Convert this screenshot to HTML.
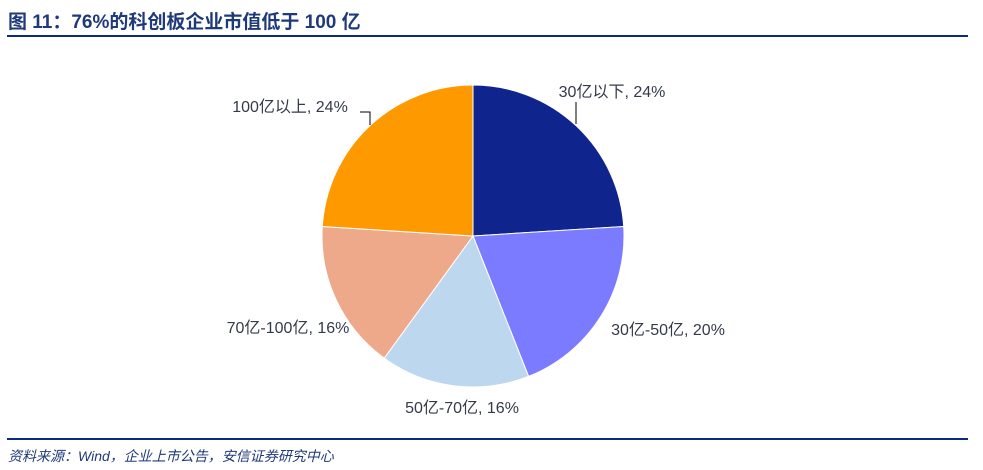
<!DOCTYPE html>
<html><head><meta charset="utf-8"><style>
body{margin:0;background:#fff;width:983px;height:470px;overflow:hidden;font-family:"Liberation Sans","Noto Sans CJK SC",sans-serif;}
#title{position:absolute;left:8px;top:7px;font-size:19px;font-weight:bold;color:#1f3a7a;white-space:nowrap;}
.rule{position:absolute;left:7px;width:961px;height:2px;background:#0d2a80;}
#src{position:absolute;left:8px;top:446px;font-size:14px;font-style:italic;color:#1f3a7a;white-space:nowrap;}
svg{position:absolute;left:0;top:0;}
</style></head><body>
<div id="title">图 11：76%的科创板企业市值低于 100 亿</div>
<div class="rule" style="top:35px"></div>
<svg id="chart" width="983" height="470"></svg>
<div class="rule" style="top:438px"></div>
<div id="src">资料来源：Wind，企业上市公告，安信证券研究中心</div>
<script>
const categories=["30亿以下","30亿-50亿","50亿-70亿","70亿-100亿","100亿以上"];
const values=[24,20,16,16,24];
const colors=["#0f248c","#7b7bff","#bdd7ee","#eda98a","#ff9900"];
const labelPos=[[612,91,"middle"],[668,329,"middle"],[462,407,"middle"],[288,327,"middle"],[290,106,"middle"]];
const NS="http://www.w3.org/2000/svg";
const svg=document.getElementById('chart');
const cx=473,cy=236,r=151;
const total=values.reduce((a,b)=>a+b,0);
function pt(a,rr){return [cx+rr*Math.sin(a),cy-rr*Math.cos(a)];}
let a0=0;
values.forEach((v,i)=>{
  const a1=a0+v/total*2*Math.PI;
  const p0=pt(a0,r),p1=pt(a1,r);
  const large=(a1-a0)>Math.PI?1:0;
  const path=document.createElementNS(NS,'path');
  path.setAttribute('d',`M${cx},${cy} L${p0[0]},${p0[1]} A${r},${r} 0 ${large} 1 ${p1[0]},${p1[1]} Z`);
  path.setAttribute('fill',colors[i]);
  path.setAttribute('stroke','#fff');
  path.setAttribute('stroke-width','1');
  
  
  svg.appendChild(path);
  const t=document.createElementNS(NS,'text');
  t.setAttribute('x',labelPos[i][0]);t.setAttribute('y',labelPos[i][1]+6);
  t.setAttribute('text-anchor',labelPos[i][2]);
  t.setAttribute('font-size','16');t.setAttribute('fill','#333a4a');
  t.setAttribute('font-family','"Liberation Sans","Noto Sans CJK SC",sans-serif');
  t.textContent=categories[i]+", "+v+"%";
  
  
  svg.appendChild(t);
  a0=a1;
});
const l1=document.createElementNS(NS,'polyline');
l1.setAttribute('points','576,102 576,124');
l1.setAttribute('stroke','#000');l1.setAttribute('fill','none');


svg.appendChild(l1);
const l2=document.createElementNS(NS,'polyline');
l2.setAttribute('points','360,112 370,112 370,125');
l2.setAttribute('stroke','#000');l2.setAttribute('fill','none');


svg.appendChild(l2);
</script>
</body></html>
